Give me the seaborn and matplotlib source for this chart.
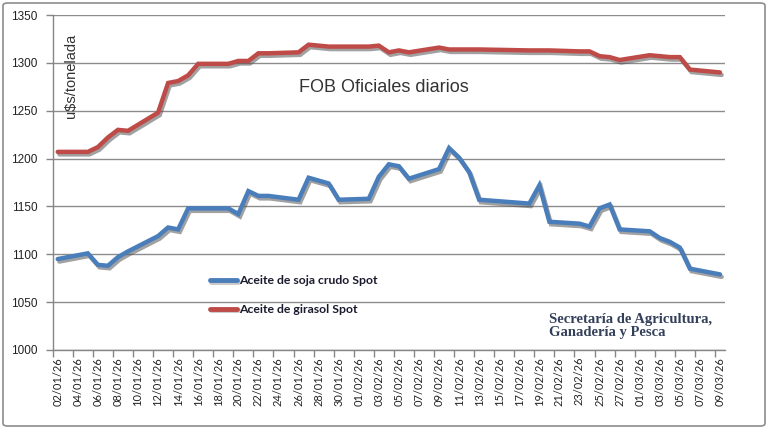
import matplotlib
matplotlib.use("Agg")
import matplotlib.pyplot as plt
import matplotlib.dates as mdates
import matplotlib.patheffects as pe
from matplotlib.patches import FancyBboxPatch
from matplotlib.lines import Line2D
import seaborn as sns
import pandas as pd

dates = [
    "2026-01-02", "2026-01-05", "2026-01-06", "2026-01-07", "2026-01-08", "2026-01-09",
    "2026-01-12", "2026-01-13", "2026-01-14", "2026-01-15", "2026-01-16",
    "2026-01-19", "2026-01-20", "2026-01-21", "2026-01-22", "2026-01-23",
    "2026-01-26", "2026-01-27", "2026-01-28", "2026-01-29", "2026-01-30",
    "2026-02-02", "2026-02-03", "2026-02-04", "2026-02-05", "2026-02-06",
    "2026-02-09", "2026-02-10", "2026-02-11", "2026-02-12", "2026-02-13",
    "2026-02-18", "2026-02-19", "2026-02-20",
    "2026-02-23", "2026-02-24", "2026-02-25", "2026-02-26", "2026-02-27",
    "2026-03-02", "2026-03-03", "2026-03-04", "2026-03-05", "2026-03-06",
    "2026-03-09",
]
soja = [
    1095, 1101, 1089, 1088, 1097, 1103,
    1119, 1128, 1126, 1148, 1148,
    1148, 1142, 1166, 1161, 1161,
    1157, 1180, 1177, 1174, 1157,
    1158, 1181, 1194, 1192, 1179,
    1189, 1211, 1201, 1186, 1157,
    1153, 1172, 1134,
    1132, 1129, 1148, 1152, 1126,
    1124, 1117, 1113, 1107, 1085,
    1079,
]
girasol = [
    1207, 1207, 1212, 1222, 1230, 1229,
    1248, 1279, 1281, 1287, 1299,
    1299, 1302, 1302, 1310, 1310,
    1311, 1319, 1318, 1317, 1317,
    1317, 1318, 1311, 1313, 1311,
    1316, 1314, 1314, 1314, 1314,
    1313, 1313, 1313,
    1312, 1312, 1307, 1306, 1303,
    1308, 1307, 1306, 1306, 1293,
    1290,
]
series_names = ["Aceite de soja crudo Spot", "Aceite de girasol Spot"]
colors = ["#4A7EBB", "#BE4B48"]
yticks = [1000, 1050, 1100, 1150, 1200, 1250, 1300, 1350]

df = pd.DataFrame({
    "fecha": pd.to_datetime(dates * 2),
    "valor": soja + girasol,
    "serie": [series_names[0]] * len(dates) + [series_names[1]] * len(dates),
})

sns.set_theme(style="white")
plt.rcParams["font.family"] = ["Liberation Sans", "DejaVu Sans"]

fig = plt.figure(figsize=(7.68, 4.29), dpi=100)
ax = fig.add_axes([52.7 / 768, 1 - 350 / 429, (725 - 52.7) / 768, (350 - 15) / 429])

sns.lineplot(data=df, x="fecha", y="valor", hue="serie", palette=colors,
             hue_order=series_names, linewidth=3.2, ax=ax, legend=False)

shadow = [pe.SimpleLineShadow(offset=(1.2, -1.8), shadow_color="#555555", alpha=0.55),
          pe.Normal()]
for ln in ax.lines:
    ln.set_path_effects(shadow)
    ln.set_solid_joinstyle("miter")

start = pd.Timestamp(dates[0])
end = pd.Timestamp(dates[-1])
x0 = mdates.date2num(start) - 0.5
x1 = mdates.date2num(end) + 0.5
ax.set_xlim(x0, x1)
ax.set_ylim(1000, 1350)

ndays = (end - start).days
major = [mdates.date2num(start) + k for k in range(0, ndays + 1, 2)]
minor = [m - 0.5 for m in major]
ax.set_xticks(major)
ax.set_xticklabels([mdates.num2date(m).strftime("%d/%m/%y") for m in major],
                   rotation=90, fontsize=8, color="#222222", family=["Lato", "DejaVu Sans"])
ax.set_xticks(minor, minor=True)
ax.tick_params(axis="x", which="major", length=0, pad=5)
ax.tick_params(axis="x", which="minor", length=5, width=1, color="#868686", direction="out", bottom=True)

ax.set_yticks(yticks)
ax.set_yticklabels([str(v) for v in yticks], fontsize=8.5, color="#222222")
ax.tick_params(axis="y", length=5, width=1, color="#868686", direction="out", left=True, pad=6)

ax.grid(axis="y", color="#8C8C8C", linewidth=1)
ax.set_axisbelow(True)
for s in ["top", "right"]:
    ax.spines[s].set_visible(False)
for s in ["left", "bottom"]:
    ax.spines[s].set_color("#868686")
    ax.spines[s].set_linewidth(1)
ax.set_xlabel("")
ax.set_ylabel("")

handles = []
for c in colors:
    h = Line2D([0], [0], color=c, linewidth=3.5,
               path_effects=[pe.SimpleLineShadow(offset=(1, -1), shadow_color="#777777", alpha=0.4), pe.Normal()])
    handles.append(h)
leg = fig.legend(handles, series_names, loc="upper left",
                 bbox_to_anchor=(210 / 768, 1 - 275.5 / 429), bbox_transform=fig.transFigure,
                 frameon=False, borderpad=0, borderaxespad=0, handlelength=2.2,
                 handletextpad=0.15, labelspacing=1.45,
                 prop={"family": ["Lato", "DejaVu Sans"], "weight": "bold", "size": 8.8})
for t in leg.get_texts():
    t.set_color("#1a1a2e")

fig.text(384 / 768, 1 - 88 / 429, "FOB Oficiales diarios", ha="center", va="center",
         fontsize=13, color="#333333")
fig.text(71 / 768, 1 - 76 / 429, "u$s/tonelada", ha="center", va="center",
         rotation=90, fontsize=10.5, color="#333333")
fig.text(549 / 768, 1 - 326 / 429, "Secretaría de Agricultura,\nGanadería y Pesca",
         ha="left", va="center", fontsize=10.5, fontweight="bold", color="#34405A",
         family=["Liberation Serif", "DejaVu Serif"], linespacing=0.95)

border = FancyBboxPatch((3 / 768, 3 / 429), 762 / 768, 423 / 429,
                        boxstyle="round,pad=0,rounding_size=0.006",
                        transform=fig.transFigure, fill=False,
                        edgecolor="#8C8C8C", linewidth=1.2)
fig.patches.append(border)

fig.savefig("out.png", dpi=100)
